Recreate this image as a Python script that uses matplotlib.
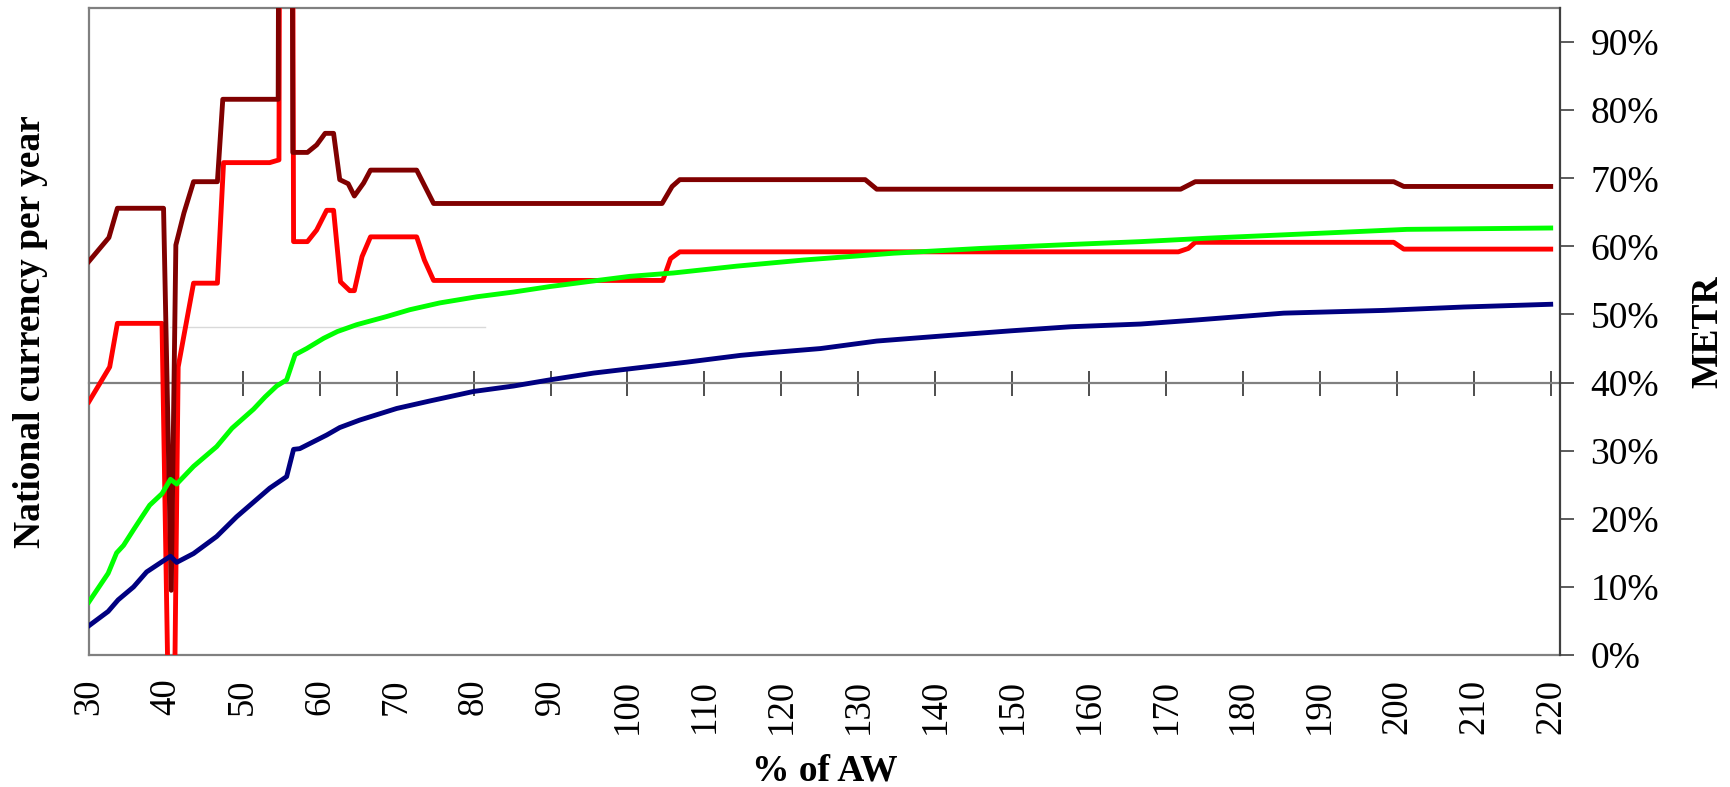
import matplotlib
matplotlib.use("Agg")
import matplotlib.pyplot as plt
from matplotlib.ticker import PercentFormatter

# ---- data (METR, share) ----
# x positions are % of AW
dr_x = [30, 32.6, 33.7, 39.7, 40.7, 41.3, 42.35, 43.6, 46.7, 47.4, 54.6, 55.6, 56.5, 58.4, 59.6, 60.7,
        61.8, 62.6, 63.7, 64.5, 65.7, 66.6, 72.6, 74.8, 104.5, 105.8, 106.8, 130.9, 132.4, 171.9,
        173.8, 199.6, 200.9, 220]
dr_y = [.578, .613, .656, .656, .095, .602, .649, .695, .695, .816, .816, 5.0, .738, .738, .749, .766,
        .766, .698, .692, .674, .693, .712, .712, .663, .663, .688, .698, .698, .684, .684,
        .695, .695, .688, .688]

red_x = [30, 32.7, 33.7, 39.5, 40.8, 41.6, 43.6, 46.7, 47.5, 53.5, 54.7, 55.6, 56.6, 58.4, 59.6, 60.9,
         61.8, 62.7, 63.9, 64.5, 65.5, 66.6, 72.6, 73.6, 74.8, 104.6, 105.6, 106.8, 171.6, 172.9,
         173.8, 199.6, 200.9, 220]
red_y = [.372, .423, .487, .487, -.4, .423, .546, .546, .723, .723, .727, 5.0, .607, .607, .624, .653,
         .653, .548, .535, .535, .585, .614, .614, .580, .550, .550, .582, .592, .592, .597,
         .606, .606, .596, .596]

grn_x = [30, 32.5, 33.6, 34.5, 35.8, 36.9, 37.9, 39.5, 40.6, 41.4, 43.6, 46.6, 48.6, 51.4, 52.9, 54.4,
         55.7, 56.8, 58.3, 60.5, 62.3, 64.8, 68.7, 71.7, 75.6, 80.4, 85.2, 89.9, 94.7, 100.3, 106.0,
         114.2, 122.9, 134.6, 145.9, 158.0, 166.7, 175.3, 191.4, 201.3, 220]
grn_y = [.078, .120, .150, .161, .184, .203, .220, .237, .258, .251, .277, .306, .333, .361, .379, .395,
         .404, .441, .450, .465, .475, .485, .497, .507, .517, .526, .533, .541, .548, .556, .561,
         .571, .580, .590, .597, .603, .607, .612, .620, .625, .627]

blu_x = [30, 32.5, 33.8, 35.8, 37.5, 39.5, 40.6, 41.4, 43.6, 46.6, 49.2, 53.5, 55.7, 56.6, 57.4, 60.9,
         62.6, 65.2, 70.0, 74.3, 80.0, 85.2, 89.9, 95.6, 101.6, 107.7, 114.7, 118.6, 125.1, 132.4,
         141.5, 149.8, 157.6, 166.7, 174.0, 185.3, 198.3, 208.7, 220]
blu_y = [.043, .064, .081, .100, .122, .137, .145, .136, .149, .174, .203, .245, .262, .302, .303, .323,
         .334, .345, .362, .373, .387, .395, .404, .414, .422, .430, .440, .444, .450, .461,
         .469, .476, .482, .486, .492, .502, .506, .511, .515]

faint_x = [40.5, 81.5]
faint_y = [.482, .482]

xticks = list(range(30, 221, 10))
yticks = [i / 10 for i in range(10)]

plt.rcParams['font.family'] = ['Liberation Serif', 'DejaVu Serif']

fig = plt.figure(figsize=(17.3, 7.87), dpi=100)
ax = fig.add_axes([0.0514, 0.1677, 0.8503, 0.8221])
ax2 = ax.twinx()

# primary axis: no value ticks, only category labels at the bottom
ax.set_xlim(30, 221.2)
ax.set_ylim(0, 0.95)
ax.set_yticks([])
ax.set_xticks(xticks)
ax.tick_params(axis='x', length=0, pad=17, labelsize=26.5, labelrotation=90)
for s in ['left', 'top', 'bottom']:
    ax.spines[s].set_color('#808080')
    ax.spines[s].set_linewidth(1.6)
ax.spines['right'].set_visible(False)

# zero line of the primary axis with its tick marks
zl = ax.secondary_xaxis(0.4 / 0.95)
zl.set_xticks(xticks)
zl.tick_params(axis='x', direction='inout', length=18, width=1.2, color='#303030',
               labelbottom=False, labeltop=False)
for s in ['top', 'bottom']:
    zl.spines[s].set_color('#808080')
    zl.spines[s].set_linewidth(1.6)

# METR lines
ax2.set_xlim(30, 221.2)
ax2.set_ylim(0, 0.95)
ax2.plot(faint_x, faint_y, color='#d9d9d9', lw=1)
ax2.plot(red_x, red_y, color='#ff0000', lw=3.5)
ax2.plot(dr_x, dr_y, color='#800000', lw=3.5)
ax2.plot(grn_x, grn_y, color='#00ff00', lw=3.5)
ax2.plot(blu_x, blu_y, color='#000080', lw=3.5)

ax2.set_yticks(yticks)
ax2.yaxis.set_major_formatter(PercentFormatter(1.0, decimals=0))
ax2.tick_params(axis='y', length=10, width=1.2, color='#404040', pad=12, labelsize=27)
for s in ['left', 'top', 'bottom']:
    ax2.spines[s].set_visible(False)
ax2.spines['right'].set_color('#404040')
ax2.spines['right'].set_linewidth(1.6)

ax.set_ylabel('National currency per year', fontsize=27, fontweight='bold')
ax.yaxis.set_label_coords(-0.0279, 0.5)
ax2.set_ylabel('METR', fontsize=27, fontweight='bold')
ax2.yaxis.set_label_coords(1.0884, 0.5)
ax.set_xlabel('% of AW', fontsize=27, fontweight='bold')
ax.xaxis.set_label_coords(0.5, -0.1515)

fig.savefig('out.png', dpi=100)
